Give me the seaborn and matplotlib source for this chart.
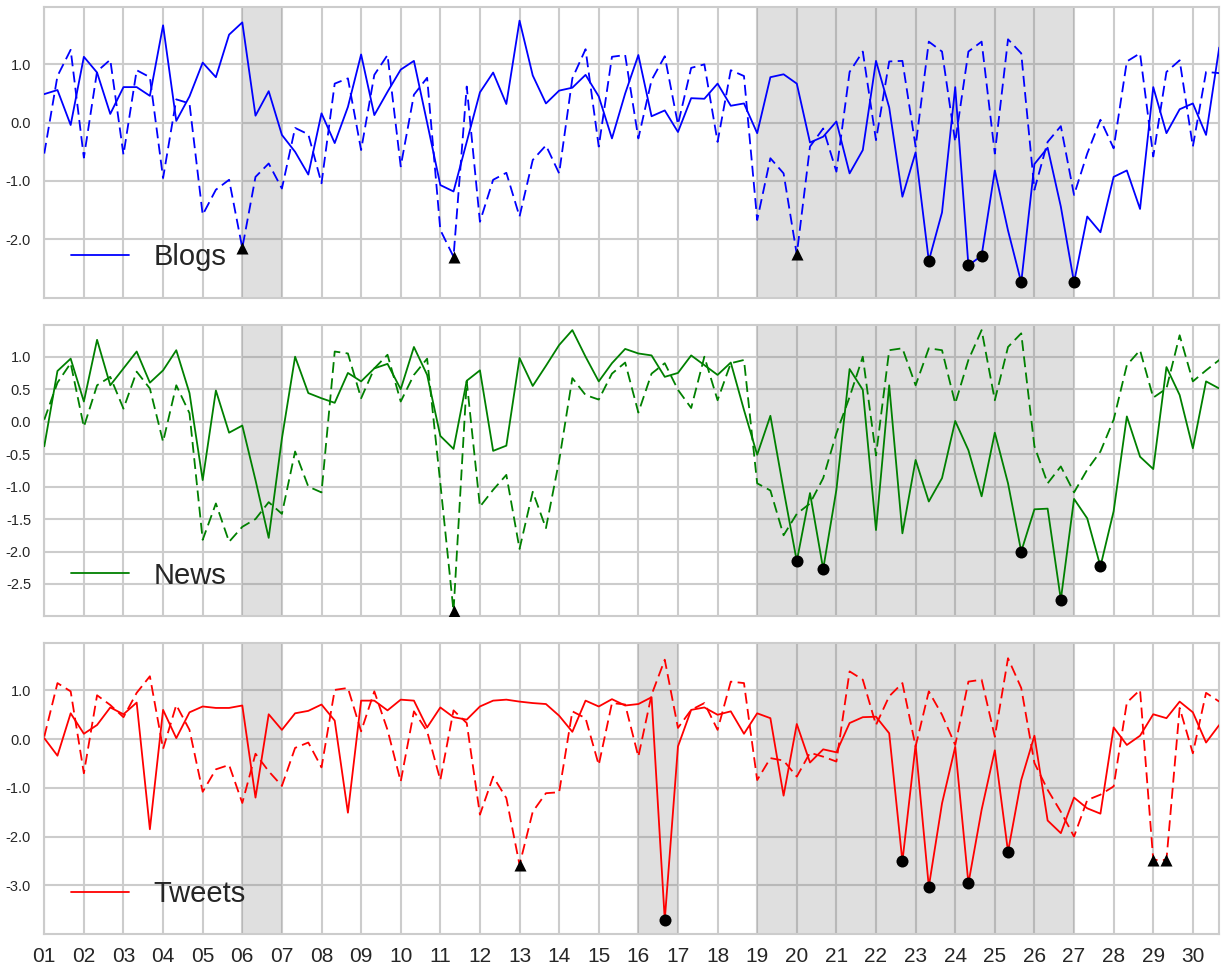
import numpy as np
import matplotlib
matplotlib.use("Agg")
import matplotlib.pyplot as plt
import seaborn as sns

# ---------------- data (3 samples per day, days 01..30) ----------------
days = list(range(1, 31))
day_labels = ["%02d" % d for d in days]
n_points = 90
t = 1 + np.arange(n_points) / 3.0  # time position in days

blogs_solid = [0.49, 0.56, -0.04, 1.13, 0.86, 0.15, 0.61, 0.61, 0.46, 1.67,
               0.03, 0.45, 1.03, 0.78, 1.51, 1.72, 0.12, 0.54, -0.21, -0.50,
               -0.89, 0.16, -0.35, 0.27, 1.17, 0.13, 0.53, 0.91, 1.06, 0.0,
               -1.07, -1.18, -0.33, 0.52, 0.86, 0.32, 1.75, 0.81, 0.33, 0.55,
               0.60, 0.82, 0.45, -0.27, 0.50, 1.16, 0.11, 0.21, -0.16, 0.42,
               0.41, 0.67, 0.29, 0.33, -0.18, 0.78, 0.83, 0.67, -0.34, -0.24,
               0.02, -0.87, -0.47, 1.06, 0.26, -1.27, -0.51, -2.37, -1.54, 0.61,
               -2.45, -2.28, -0.82, -1.85, -2.74, -0.71, -0.43, -1.44, -2.74, -1.61,
               -1.88, -0.93, -0.82, -1.48, 0.61, -0.18, 0.23, 0.33, -0.21, 1.29]
blogs_dashed = [-0.53, 0.80, 1.25, -0.60, 0.88, 1.08, -0.55, 0.90, 0.78, -0.95,
                0.40, 0.33, -1.58, -1.15, -0.98, -2.15, -0.93, -0.70, -1.13, -0.09,
                -0.20, -1.04, 0.67, 0.76, -0.47, 0.82, 1.16, -0.75, 0.48, 0.77,
                -1.84, -2.30, 0.62, -1.70, -0.98, -0.86, -1.61, -0.64, -0.39, -0.87,
                0.76, 1.26, -0.41, 1.13, 1.16, -0.27, 0.73, 1.14, -0.03, 0.94,
                1.00, -0.33, 0.90, 0.80, -1.67, -0.61, -0.87, -2.26, -0.41, -0.10,
                -0.84, 0.87, 1.22, -0.30, 1.05, 1.06, -0.41, 1.39, 1.22, -0.33,
                1.22, 1.39, -0.53, 1.43, 1.19, -1.15, -0.33, -0.06, -1.24, -0.53,
                0.05, -0.44, 1.05, 1.19, -0.58, 0.87, 1.07, -0.41, 0.87, 0.85]

news_solid = [-0.38, 0.78, 0.97, 0.31, 1.26, 0.56, 0.82, 1.08, 0.60, 0.79,
              1.10, 0.44, -0.90, 0.48, -0.17, -0.06, -0.90, -1.79, -0.26, 1.00,
              0.44, 0.36, 0.29, 0.75, 0.62, 0.82, 0.89, 0.50, 1.15, 0.72,
              -0.22, -0.42, 0.63, 0.79, -0.45, -0.37, 0.98, 0.55, 0.86, 1.18,
              1.41, 1.00, 0.62, 0.90, 1.12, 1.05, 1.02, 0.69, 0.75, 1.02,
              0.87, 0.72, 0.91, 0.18, -0.51, 0.09, -1.05, -2.15, -1.10, -2.27,
              -1.05, 0.81, 0.49, -1.67, 0.56, -1.72, -0.59, -1.23, -0.87, 0.01,
              -0.44, -1.15, -0.17, -0.95, -2.00, -1.35, -1.34, -2.74, -1.19, -1.49,
              -2.23, -1.38, 0.08, -0.54, -0.73, 0.84, 0.41, -0.41, 0.62, 0.51]
news_dashed = [0.03, 0.60, 0.90, -0.08, 0.56, 0.69, 0.20, 0.77, 0.51, -0.31,
               0.56, 0.13, -1.82, -1.26, -1.85, -1.62, -1.50, -1.24, -1.42, -0.46,
               -1.00, -1.09, 1.08, 1.05, 0.36, 0.82, 1.03, 0.31, 0.72, 0.97,
               -0.95, -2.92, 0.62, -1.31, -1.05, -0.82, -1.96, -1.08, -1.64, -0.60,
               0.67, 0.41, 0.34, 0.74, 0.91, 0.14, 0.74, 0.90, 0.49, 0.21,
               1.00, 0.33, 0.90, 0.95, -0.95, -1.06, -1.75, -1.42, -1.26, -0.87,
               -0.18, 0.38, 1.00, -0.52, 1.10, 1.13, 0.56, 1.13, 1.10, 0.28,
               0.95, 1.41, 0.33, 1.15, 1.36, -0.38, -0.95, -0.69, -1.09, -0.74,
               -0.46, 0.03, 0.87, 1.10, 0.37, 0.51, 1.33, 0.62, 0.79, 0.95]

tweets_solid = [0.02, -0.34, 0.53, 0.11, 0.29, 0.65, 0.51, 0.75, -1.85, 0.60,
                0.02, 0.55, 0.67, 0.64, 0.64, 0.69, -1.20, 0.51, 0.19, 0.53,
                0.58, 0.71, 0.38, -1.51, 0.79, 0.79, 0.59, 0.81, 0.79, 0.24,
                0.65, 0.45, 0.40, 0.67, 0.79, 0.81, 0.77, 0.74, 0.72, 0.48,
                0.15, 0.79, 0.67, 0.82, 0.69, 0.72, 0.86, -3.71, -0.15, 0.60,
                0.65, 0.50, 0.57, 0.11, 0.53, 0.43, -1.16, 0.31, -0.48, -0.21,
                -0.27, 0.33, 0.45, 0.46, 0.12, -2.51, -0.12, -3.03, -1.32, -0.16,
                -2.96, -1.45, -0.23, -2.31, -0.84, 0.07, -1.67, -1.93, -1.20, -1.42,
                -1.53, 0.24, -0.12, 0.07, 0.51, 0.43, 0.77, 0.55, -0.07, 0.29]
tweets_dashed = [0.05, 1.15, 0.98, -0.70, 0.90, 0.70, 0.45, 0.95, 1.29, -0.20,
                 0.70, 0.19, -1.08, -0.62, -0.53, -1.31, -0.30, -0.66, -0.96, -0.18,
                 -0.07, -0.58, 1.01, 1.05, 0.16, 0.98, 0.19, -0.87, 0.57, 0.16,
                 -0.84, 0.59, 0.33, -1.55, -0.77, -1.21, -2.58, -1.49, -1.11, -1.09,
                 0.57, 0.43, -0.53, 0.74, 0.71, -0.36, 0.91, 1.63, 0.23, 0.60,
                 0.74, 0.19, 1.18, 1.15, -0.84, -0.39, -0.44, -0.77, -0.28, -0.36,
                 -0.46, 1.39, 1.22, 0.29, 0.88, 1.15, -0.15, 0.98, 0.50, -0.12,
                 1.18, 1.22, 0.05, 1.66, 1.05, -0.49, -1.04, -1.49, -2.00, -1.25,
                 -1.14, -0.97, 0.75, 1.01, -2.48, -2.48, 0.64, -0.29, 0.95, 0.77]

# anomaly indices (circles on solid, triangles on dashed)
blogs_circles = [67, 70, 71, 74, 78]
blogs_triangles = [15, 31, 57]
news_circles = [57, 59, 74, 77, 80]
news_triangles = [31]
tweets_circles = [47, 65, 67, 70, 73]
tweets_triangles = [36, 84, 85]

# shaded day ranges
spans_blogs = [(6, 7), (19, 27)]
spans_news = [(6, 7), (19, 27)]
spans_tweets = [(6, 7), (16, 17), (19, 27)]

names = ["Blogs", "News", "Tweets"]
colors = ["#0000ff", "#008000", "#ff0000"]
ylims = [(-3.0, 1.99), (-2.99, 1.49), (-4.0, 1.97)]
yticks = [[-2.0, -1.0, 0.0, 1.0],
          [-2.5, -2.0, -1.5, -1.0, -0.5, 0.0, 0.5, 1.0],
          [-3.0, -2.0, -1.0, 0.0, 1.0]]

# ---------------- style ----------------
sns.set_style("whitegrid", {"grid.color": "#cccccc", "axes.edgecolor": "#cccccc"})
plt.rcParams["font.family"] = ["Liberation Sans", "DejaVu Sans"]
plt.rcParams["axes.unicode_minus"] = False

fig, axes = plt.subplots(3, 1, figsize=(12.26, 9.66), dpi=100, sharex=True)
plt.subplots_adjust(left=0.0361, right=0.9945, top=0.9931, bottom=0.0331, hspace=0.094)

panels = [
    (blogs_solid, blogs_dashed, blogs_circles, blogs_triangles, spans_blogs),
    (news_solid, news_dashed, news_circles, news_triangles, spans_news),
    (tweets_solid, tweets_dashed, tweets_circles, tweets_triangles, spans_tweets),
]

for k, (ax, (sol, das, circ, tri, spans)) in enumerate(zip(axes, panels)):
    sol = np.asarray(sol)
    das = np.asarray(das)
    for a, b in spans:
        ax.axvspan(a, b, color="gray", alpha=0.25, lw=0, zorder=1)
    sns.lineplot(x=t, y=das, ax=ax, color=colors[k], lw=1.3,
                 linestyle=(0, (6, 3)), estimator=None, zorder=3)
    sns.lineplot(x=t, y=sol, ax=ax, color=colors[k], lw=1.3,
                 estimator=None, label=names[k], zorder=3)
    sns.scatterplot(x=t[circ], y=sol[circ], ax=ax, color="black", marker="o",
                    s=75, linewidth=0, zorder=5)
    sns.scatterplot(x=t[tri], y=das[tri], ax=ax, color="black", marker="^",
                    s=75, linewidth=0, zorder=5)
    ax.set_xlim(t[0], t[-1])
    ax.set_ylim(*ylims[k])
    ax.set_yticks(yticks[k])
    ax.set_yticklabels(["%.1f" % v for v in yticks[k]])
    ax.set_xticks(days)
    ax.set_xticklabels(day_labels)
    ax.tick_params(axis="y", labelsize=10.5, colors="#262626", pad=6)
    ax.tick_params(axis="x", labelsize=15, colors="#262626", pad=6)
    ax.grid(True, color="#cccccc", lw=1.5)
    for sp in ax.spines.values():
        sp.set_color("#cccccc")
        sp.set_linewidth(1.5)
    ax.set_xlabel("")
    ax.set_ylabel("")
    leg = ax.legend(loc="lower left", frameon=False, fontsize=21,
                    handlelength=2.0, handletextpad=0.85)
    for txt in leg.get_texts():
        txt.set_color("#262626")
    if k < 2:
        ax.tick_params(axis="x", labelbottom=False)

fig.savefig("out.png", dpi=100)
